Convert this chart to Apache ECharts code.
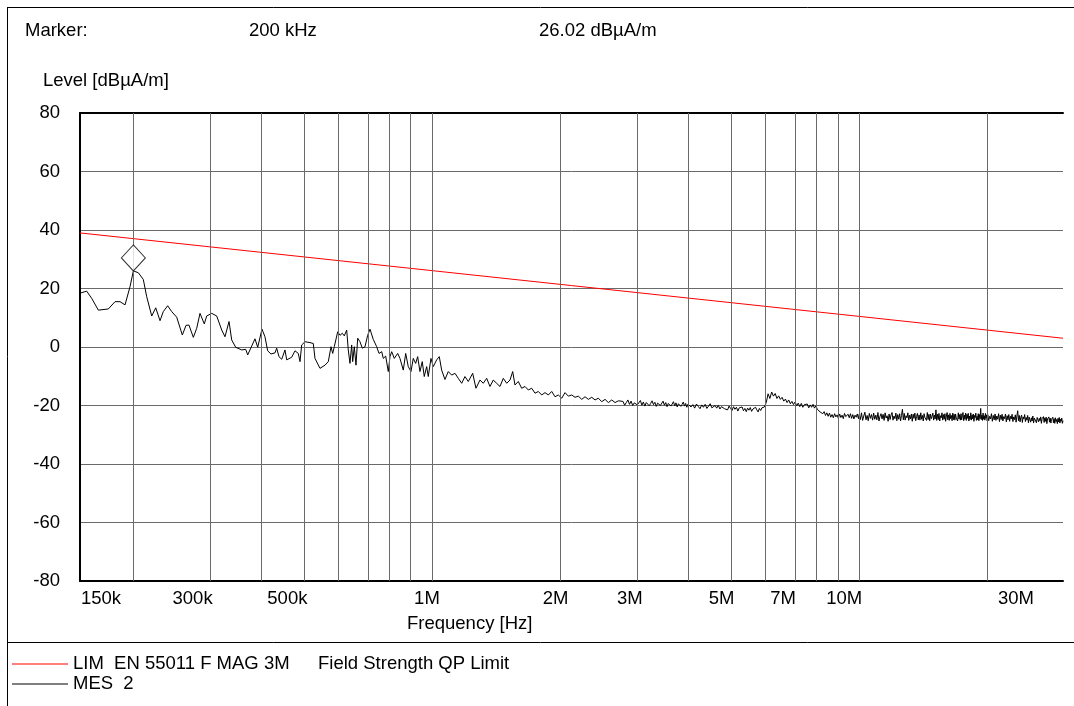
<!DOCTYPE html>
<html>
<head>
<meta charset="utf-8">
<script src="https://cdn.jsdelivr.net/npm/echarts@6/dist/echarts.min.js"></script>
<style>
  html, body { margin: 0; padding: 0; background: #fff; }
  #chart { width: 1074px; height: 706px; }
</style>
</head>
<body>
<div id="chart"></div>
<script>
// Frequencies in MHz, levels in dBµA/m
const gridFreqMHz = [0.2, 0.3, 0.4, 0.5, 0.6, 0.7, 0.8, 0.9, 1, 2, 3, 4, 5, 6, 7, 8, 9, 10, 20, 30];
const tickFreqMHz = [0.15, 0.3, 0.5, 1, 2, 3, 5, 7, 10, 30];
const tickLabels = ['150k', '300k', '500k', '1M', '2M', '3M', '5M', '7M', '10M', '30M'];

const limitName = 'LIM  EN 55011 F MAG 3M';
const limitDesc = 'Field Strength QP Limit';
const limitFreqMHz = [0.15, 30];
const limitLevel = [39, 3];

const mesName = 'MES  2';

// 150 kHz - 2.8 MHz
const mesFreqLow = [
  0.150, 0.1555, 0.1598, 0.1656, 0.1747, 0.1812, 0.1861, 0.1912, 0.1964, 0.200,
  0.2054, 0.2110, 0.2149, 0.2208, 0.2256, 0.2309, 0.2350, 0.2406, 0.2459, 0.2526,
  0.2604, 0.2656, 0.2699, 0.2763, 0.2814, 0.2864, 0.2931, 0.2969, 0.3051, 0.3134,
  0.3220, 0.3277, 0.3349, 0.3398, 0.3472, 0.3586, 0.3664, 0.3704, 0.3784, 0.3852,
  0.3909, 0.4000, 0.4065, 0.4125, 0.4199, 0.4291, 0.4330, 0.4384, 0.4449, 0.4528,
  0.4570, 0.4695, 0.4779, 0.4865, 0.4910, 0.4955, 0.5044, 0.5182, 0.5275, 0.5323,
  0.5372, 0.5469, 0.5618, 0.5719, 0.5803, 0.5856, 0.5907, 0.6016, 0.6091, 0.6167,
  0.6234, 0.6315, 0.6369, 0.6428, 0.6487, 0.6522, 0.6579, 0.6639, 0.6701, 0.6784,
  0.6869, 0.6969, 0.7071, 0.7160, 0.7288, 0.7423, 0.7516, 0.7626, 0.7692, 0.7792,
  0.7902, 0.7975, 0.8048, 0.8162, 0.8312, 0.8416, 0.8567, 0.8679, 0.8801, 0.8930,
  0.9041, 0.9159, 0.9258, 0.9373, 0.9490, 0.9593, 0.9718, 0.9802, 0.9946, 1.0070,
  1.0256, 1.0401, 1.0536, 1.0725, 1.0918, 1.1120, 1.1320, 1.1523, 1.1736, 1.1947,
  1.2161, 1.2453, 1.2676, 1.2953, 1.3185, 1.3429, 1.3670, 1.3915, 1.4172, 1.4427,
  1.4686, 1.4960, 1.5228, 1.5451, 1.5644, 1.5924, 1.6219, 1.6511, 1.6807, 1.7118,
  1.7425, 1.7738, 1.8066, 1.8391, 1.8722, 1.9068, 1.9410, 1.9758, 2.0124, 2.0487,
  2.0855, 2.1240, 2.1621, 2.2010, 2.2418, 2.2820, 2.3229, 2.3660, 2.4084, 2.4516,
  2.4971, 2.5419, 2.5875, 2.6354, 2.6828, 2.7309
];
const mesLevelLow = [
  18.4, 19.1, 16.6, 12.6, 13.0, 15.5, 15.5, 14.4, 20.6, 26.02,
  25.4, 23.1, 17.2, 10.6, 13.4, 9.0, 12.1, 14.1, 12.1, 10.2,
  4.1, 7.4, 7.5, 3.3, 6.4, 11.5, 7.9, 10.6, 11.5, 10.6,
  5.8, 3.5, 8.7, 2.4, -0.1, -1.0, -0.8, -2.7, 0.3, 2.8,
  -0.1, 6.1, 3.5, -1.3, -2.4, -2.0, -0.4, -3.3, -4.2, -1.0,
  -4.4, -3.5, -1.3, -2.2, -5.0, 0.7, 1.8, 1.5, 1.2, -3.9,
  -3.3, -7.3, -6.2, -5.0, 0.1, -2.2, 0.1, 5.2, 4.0, 4.7,
  3.8, 5.8, -1.0, -5.6, 0.7, -5.0, 0.1, -6.2, 3.0, 1.8,
  -0.4, 0.1, 4.0, 6.1, 2.6, 0.1, -2.2, -1.6, -3.9, -3.1,
  -8.4, -3.3, -1.6, -3.9, -2.2, -3.9, -7.9, -2.2, -6.7, -8.4,
  -3.9, -5.6, -3.3, -8.4, -5.0, -10.1, -6.7, -10.1, -3.9, -6.7,
  -4.4, -3.3, -7.9, -11.1, -8.4, -9.6, -9.0, -10.7, -12.4, -10.1,
  -11.8, -9.0, -14.1, -11.3, -12.4, -10.7, -13.5, -11.3, -12.4, -13.5,
  -10.7, -12.4, -11.3, -8.4, -13.0, -11.8, -14.1, -13.5, -14.7, -14.1,
  -15.8, -15.2, -16.4, -15.6, -16.4, -15.2, -17.0, -16.4, -17.5, -15.6,
  -16.8, -16.4, -17.2, -16.8, -17.9, -17.0, -17.9, -17.2, -18.1, -17.5,
  -18.7, -17.9, -19.0, -18.1, -19.0, -18.4
];

// 2.8 - 4 MHz
const mesFreqB = [
  2.800, 2.825, 2.850, 2.875, 2.900, 2.925, 2.950, 2.975, 3.000, 3.025,
  3.050, 3.075, 3.100, 3.125, 3.150, 3.175, 3.200, 3.225, 3.250, 3.275,
  3.300, 3.325, 3.350, 3.375, 3.400, 3.425, 3.450, 3.475, 3.500, 3.525,
  3.550, 3.575, 3.600, 3.625, 3.650, 3.675, 3.700, 3.725, 3.750, 3.775,
  3.800, 3.825, 3.850, 3.875, 3.900, 3.925, 3.950, 3.975
];
const mesLevelB = [
  -18.6, -19.9, -19.0, -18.1, -19.6, -18.5, -20.0, -19.1, -18.6, -19.8,
  -19.2, -18.3, -19.9, -18.8, -20.2, -19.0, -18.7, -20.1, -19.3, -18.4,
  -19.7, -18.9, -20.3, -19.2, -18.6, -20.0, -19.4, -18.5, -19.9, -19.0,
  -20.4, -19.3, -18.8, -20.2, -19.5, -18.7, -20.1, -19.1, -20.5, -19.4,
  -18.9, -20.3, -19.6, -18.8, -20.2, -19.3, -20.6, -19.5
];

// 4 - 6 MHz
const mesFreqC = [
  4.00, 4.04, 4.08, 4.12, 4.16, 4.20, 4.24, 4.28, 4.32, 4.36,
  4.40, 4.44, 4.48, 4.52, 4.56, 4.60, 4.64, 4.68, 4.72, 4.76,
  4.80, 4.84, 4.88, 4.92, 4.96, 5.00, 5.04, 5.08, 5.12, 5.16,
  5.20, 5.24, 5.28, 5.32, 5.36, 5.40, 5.44, 5.48, 5.52, 5.56,
  5.60, 5.64, 5.68, 5.72, 5.76, 5.80, 5.84, 5.88, 5.92, 5.96
];
const mesLevelC = [
  -19.2, -20.5, -19.7, -20.9, -19.5, -20.3, -21.1, -19.8, -20.6, -19.6,
  -21.0, -20.2, -19.4, -20.8, -21.3, -20.0, -20.9, -19.9, -21.2, -20.4,
  -19.8, -21.1, -20.5, -21.5, -20.2, -21.0, -21.7, -20.4, -21.3, -20.6,
  -21.9, -20.8, -21.4, -20.5, -21.8, -21.0, -22.1, -20.9, -21.6, -20.7,
  -22.0, -21.2, -21.8, -20.6, -21.5, -22.2, -21.0, -21.7, -20.8, -21.4
];

// 6 - 10 MHz
const mesFreqD = [
  6.00, 6.06, 6.12, 6.18, 6.24, 6.30, 6.36, 6.42, 6.48, 6.54,
  6.60, 6.66, 6.72, 6.78, 6.84, 6.90, 6.96, 7.02, 7.08, 7.14,
  7.20, 7.26, 7.32, 7.38, 7.44, 7.50, 7.56, 7.62, 7.68, 7.74,
  7.80, 7.86, 7.92, 7.98, 8.04, 8.10, 8.16, 8.22, 8.28, 8.34,
  8.40, 8.46, 8.52, 8.58, 8.64, 8.70, 8.76, 8.82, 8.88, 8.94,
  9.00, 9.06, 9.12, 9.18, 9.24, 9.30, 9.36, 9.42, 9.48, 9.54,
  9.60, 9.66, 9.72, 9.78, 9.84, 9.90, 9.96
];
const mesLevelD = [
  -20.5, -19.0, -16.0, -17.6, -15.4, -16.8, -15.9, -17.6, -16.7, -17.9,
  -17.2, -18.5, -17.8, -19.0, -18.1, -19.4, -18.6, -19.7, -18.8, -20.1,
  -19.2, -20.4, -19.3, -20.6, -19.7, -20.3, -19.5, -20.8, -19.8, -20.6,
  -19.6, -20.9, -20.1, -21.3, -21.0, -22.2, -21.6, -22.8, -22.1, -23.4,
  -22.5, -23.7, -22.6, -24.0, -23.1, -24.2, -22.8, -23.9, -23.2, -24.4,
  -22.9, -24.1, -23.3, -24.5, -22.7, -23.8, -24.3, -23.0, -24.2, -22.8,
  -24.4, -23.1, -24.6, -23.3, -24.0, -22.9, -24.5
];

// 10 - 20 MHz
const mesFreqE = [
  10, 10.0625, 10.125, 10.1875, 10.25, 10.3125, 10.375, 10.4375, 10.5, 10.5625, 10.625, 10.6875, 10.75, 10.8125, 10.875, 10.9375,
  11, 11.0625, 11.125, 11.1875, 11.25, 11.3125, 11.375, 11.4375, 11.5, 11.5625, 11.625, 11.6875, 11.75, 11.8125, 11.875, 11.9375,
  12, 12.0625, 12.125, 12.1875, 12.25, 12.3125, 12.375, 12.4375, 12.5, 12.5625, 12.625, 12.6875, 12.75, 12.8125, 12.875, 12.9375,
  13, 13.0625, 13.125, 13.1875, 13.25, 13.3125, 13.375, 13.4375, 13.5, 13.5625, 13.625, 13.6875, 13.75, 13.8125, 13.875, 13.9375,
  14, 14.0625, 14.125, 14.1875, 14.25, 14.3125, 14.375, 14.4375, 14.5, 14.5625, 14.625, 14.6875, 14.75, 14.8125, 14.875, 14.9375,
  15, 15.0625, 15.125, 15.1875, 15.25, 15.3125, 15.375, 15.4375, 15.5, 15.5625, 15.625, 15.6875, 15.75, 15.8125, 15.875, 15.9375,
  16, 16.0625, 16.125, 16.1875, 16.25, 16.3125, 16.375, 16.4375, 16.5, 16.5625, 16.625, 16.6875, 16.75, 16.8125, 16.875, 16.9375,
  17, 17.0625, 17.125, 17.1875, 17.25, 17.3125, 17.375, 17.4375, 17.5, 17.5625, 17.625, 17.6875, 17.75, 17.8125, 17.875, 17.9375,
  18, 18.0625, 18.125, 18.1875, 18.25, 18.3125, 18.375, 18.4375, 18.5, 18.5625, 18.625, 18.6875, 18.75, 18.8125, 18.875, 18.9375,
  19, 19.0625, 19.125, 19.1875, 19.25, 19.3125, 19.375, 19.4375, 19.5, 19.5625, 19.625, 19.6875, 19.75, 19.8125, 19.875, 19.9375
];
const mesLevelE = [
  -23.0, -24.8, -22.5, -25.1, -23.6, -22.3, -24.9, -23.4, -25.2, -22.7, -24.4, -23.1, -25.0, -22.6, -24.7, -23.3,
  -24.9, -22.4, -25.3, -23.7, -22.8, -24.6, -23.0, -25.1, -22.5, -24.3, -23.5, -25.4, -22.9, -24.8, -23.2, -22.4,
  -25.0, -23.6, -24.5, -22.6, -25.2, -23.1, -24.7, -22.8, -25.3, -23.4, -21.3, -24.9, -22.7, -25.0, -23.5, -24.2,
  -22.5, -25.1, -23.3, -24.6, -22.9, -25.4, -23.0, -24.4, -22.6, -25.2, -23.8, -22.7, -24.9, -23.2, -25.0, -22.5,
  -24.7, -23.4, -25.3, -22.8, -24.1, -23.6, -25.1, -22.4, -24.8, -23.0, -25.2, -22.9, -24.5, -23.7, -22.6, -25.0,
  -23.3, -24.6, -21.5, -25.1, -23.0, -24.8, -22.7, -25.3, -23.5, -24.2, -22.5, -25.0, -23.1, -24.7, -22.8, -25.4,
  -23.6, -22.4, -24.9, -23.2, -25.1, -22.7, -24.5, -23.4, -25.2, -22.6, -24.8, -23.0, -25.0, -22.9, -24.3, -23.7,
  -25.3, -22.5, -24.6, -23.1, -25.0, -22.8, -24.9, -23.5, -22.4, -25.2, -23.3, -24.7, -22.6, -25.1, -23.0, -24.4,
  -22.7, -25.3, -23.6, -24.8, -22.5, -25.0, -23.2, -24.6, -22.9, -25.4, -23.4, -24.1, -22.6, -25.1, -23.7, -24.9,
  -22.8, -25.2, -23.1, -24.5, -21.0, -24.8, -23.3, -25.1, -22.6, -24.7, -23.5, -25.0, -22.7, -24.4, -23.2, -25.3
];

// 20 - 30 MHz
const mesFreqF = [
  20.0, 20.1, 20.2, 20.3, 20.4, 20.5, 20.6, 20.7, 20.8, 20.9,
  21.0, 21.1, 21.2, 21.3, 21.4, 21.5, 21.6, 21.7, 21.8, 21.9,
  22.0, 22.1, 22.2, 22.3, 22.4, 22.5, 22.6, 22.7, 22.8, 22.9,
  23.0, 23.1, 23.2, 23.3, 23.4, 23.5, 23.6, 23.7, 23.8, 23.9,
  24.0, 24.1, 24.2, 24.3, 24.4, 24.5, 24.6, 24.7, 24.8, 24.9,
  25.0, 25.1, 25.2, 25.3, 25.4, 25.5, 25.6, 25.7, 25.8, 25.9,
  26.0, 26.1, 26.2, 26.3, 26.4, 26.5, 26.6, 26.7, 26.8, 26.9,
  27.0, 27.1, 27.2, 27.3, 27.4, 27.5, 27.6, 27.7, 27.8, 27.9,
  28.0, 28.1, 28.2, 28.3, 28.4, 28.5, 28.6, 28.7, 28.8, 28.9,
  29.0, 29.1, 29.2, 29.3, 29.4, 29.5, 29.6, 29.7, 29.8, 29.9,
  30.0
];
const mesLevelF = [
  -23.1, -25.2, -23.7, -24.6, -22.8, -25.4, -23.4, -24.9, -22.9, -25.1,
  -23.6, -24.7, -22.8, -25.5, -23.3, -24.8, -23.0, -25.3, -23.8, -24.5,
  -22.9, -25.6, -23.5, -24.9, -23.1, -25.4, -23.7, -24.6, -23.0, -25.5,
  -23.9, -24.8, -23.2, -25.7, -23.6, -21.8, -25.2, -23.4, -25.6, -24.0,
  -23.3, -25.8, -23.9, -24.6, -23.1, -25.5, -24.1, -25.0, -23.4, -25.9,
  -24.0, -23.5, -25.7, -24.2, -25.3, -23.6, -26.0, -24.3, -24.9, -23.7,
  -25.9, -24.1, -23.8, -25.6, -24.4, -25.2, -23.9, -26.1, -24.5, -25.0,
  -23.8, -25.8, -24.2, -25.4, -24.0, -26.2, -24.6, -25.1, -23.9, -25.7,
  -24.3, -26.0, -24.7, -25.3, -24.0, -25.9, -24.5, -26.1, -24.2, -25.5,
  -24.8, -26.2, -24.4, -25.6, -24.1, -26.0, -24.7, -25.4, -24.3, -26.1,
  -25.2
];

const mesFreqMHz = [].concat(mesFreqLow, mesFreqB, mesFreqC, mesFreqD, mesFreqE, mesFreqF);
const mesLevel = [].concat(mesLevelLow, mesLevelB, mesLevelC, mesLevelD, mesLevelE, mesLevelF);

const markerFreqMHz = 0.2;
const markerLevel = 26.02;

// ---- styling ----
const FONT = '"Liberation Sans", Arial, sans-serif';
const FS = 18.5;
const GRID_COLOR = '#6a6a6a';
// horizontal nudge (px) of each frequency label relative to its frequency
const labelNudge = { '150k': 21, '300k': -16, '500k': -16, '1M': -5, '2M': -5, '3M': -6, '5M': -9, '7M': -10, '10M': -15, '30M': -47 };

const lg = Math.log10;
const xMin = lg(tickFreqMHz[0]);
const xMax = lg(tickFreqMHz[tickFreqMHz.length - 1]);

const richLabels = {};
tickLabels.forEach((t, i) => {
  const n = labelNudge[t] || 0;
  richLabels['t' + i] = {
    fontFamily: FONT, fontSize: FS, color: '#000',
    padding: n >= 0 ? [0, 0, 0, 2 * n] : [0, -2 * n, 0, 0]
  };
});

function fmtFreq(mhz) {
  return mhz < 1 ? Math.round(mhz * 1000) + ' kHz' : mhz + ' MHz';
}

const chart = echarts.init(document.getElementById('chart'), null, { renderer: 'canvas' });

chart.setOption({
  animation: false,
  backgroundColor: '#fff',
  grid: { left: 80, top: 113, width: 983, height: 468, containLabel: false },
  xAxis: [
    {
      type: 'value', min: xMin, max: xMax, position: 'bottom',
      axisLine: { show: true, onZero: false, lineStyle: { color: '#000', width: 2 } },
      axisTick: { show: false },
      splitLine: { show: false },
      axisLabel: {
        customValues: tickFreqMHz.map(lg),
        margin: 8,
        fontFamily: FONT, fontSize: FS, color: '#000',
        formatter: (v) => {
          const i = tickFreqMHz.findIndex(f => Math.abs(lg(f) - v) < 1e-6);
          return i < 0 ? '' : '{t' + i + '|' + tickLabels[i] + '}';
        },
        rich: richLabels
      }
    },
    {
      type: 'value', min: xMin, max: xMax, position: 'top',
      axisLine: { show: true, onZero: false, lineStyle: { color: '#000', width: 2 } },
      axisTick: { show: false }, axisLabel: { show: false }, splitLine: { show: false }
    }
  ],
  yAxis: {
    type: 'value', min: -80, max: 80, interval: 20,
    axisLine: { show: true, onZero: false, lineStyle: { color: '#000', width: 2 } },
    axisTick: { show: false },
    axisLabel: { margin: 20, fontFamily: FONT, fontSize: FS, color: '#000' },
    splitLine: { show: true, lineStyle: { color: GRID_COLOR, width: 1 } }
  },
  legend: {
    data: [limitName, mesName],
    orient: 'vertical', left: 12, top: 654.5, padding: 0,
    icon: 'rect', itemWidth: 56, itemHeight: 1, itemGap: 1,
    selectedMode: false,
    textStyle: {
      fontFamily: FONT, fontSize: FS, color: '#000',
      rich: { n: { fontFamily: FONT, fontSize: FS, color: '#000', width: 245 }, d: { fontFamily: FONT, fontSize: FS, color: '#000' } }
    },
    formatter: (name) => name === limitName ? '{n|' + name + '}{d|' + limitDesc + '}' : name
  },
  graphic: [
    // outer frame and legend separator
    { type: 'line', shape: { x1: 7, y1: 7.5, x2: 1074, y2: 7.5 }, style: { stroke: '#000', lineWidth: 1 }, silent: true },
    { type: 'line', shape: { x1: 7.5, y1: 7, x2: 7.5, y2: 706 }, style: { stroke: '#000', lineWidth: 1 }, silent: true },
    { type: 'line', shape: { x1: 7, y1: 642.5, x2: 1074, y2: 642.5 }, style: { stroke: '#000', lineWidth: 1 }, silent: true },
    // marker readout
    { type: 'text', left: 25, top: 21, style: { text: 'Marker:', font: FS + 'px ' + FONT, fill: '#000' }, silent: true },
    { type: 'text', left: 249, top: 21, style: { text: fmtFreq(markerFreqMHz), font: FS + 'px ' + FONT, fill: '#000' }, silent: true },
    { type: 'text', left: 539, top: 21, style: { text: markerLevel.toFixed(2) + ' dBµA/m', font: FS + 'px ' + FONT, fill: '#000' }, silent: true },
    // axis titles
    { type: 'text', left: 43, top: 71, style: { text: 'Level [dBµA/m]', font: FS + 'px ' + FONT, fill: '#000' }, silent: true },
    { type: 'text', left: 407, top: 614, style: { text: 'Frequency [Hz]', font: FS + 'px ' + FONT, fill: '#000' }, silent: true }
  ],
  series: [
    {
      name: 'grid-lines', type: 'line', data: [], silent: true, z: 1,
      markLine: {
        silent: true, symbol: ['none', 'none'], animation: false,
        label: { show: false },
        lineStyle: { color: GRID_COLOR, width: 1, type: 'solid' },
        data: gridFreqMHz.map(f => ({ xAxis: lg(f) }))
      }
    },
    {
      name: limitName, type: 'line', z: 3,
      data: limitFreqMHz.map((f, i) => [lg(f), limitLevel[i]]),
      showSymbol: false, symbol: 'none',
      itemStyle: { color: '#ff0000' },
      lineStyle: { color: '#ff0000', width: 1 }
    },
    {
      name: mesName, type: 'line', z: 4,
      data: mesFreqMHz.map((f, i) => [lg(f), mesLevel[i]]),
      showSymbol: false, symbol: 'none',
      itemStyle: { color: '#000' },
      lineStyle: { color: '#000', width: 1 }
    },
    {
      name: 'marker', type: 'scatter', z: 5,
      data: [[lg(markerFreqMHz), markerLevel]],
      symbol: 'diamond', symbolSize: [24, 26], symbolOffset: [0, -13],
      itemStyle: { color: '#fff', borderColor: '#000', borderWidth: 1 }
    }
  ]
});
</script>
</body>
</html>
